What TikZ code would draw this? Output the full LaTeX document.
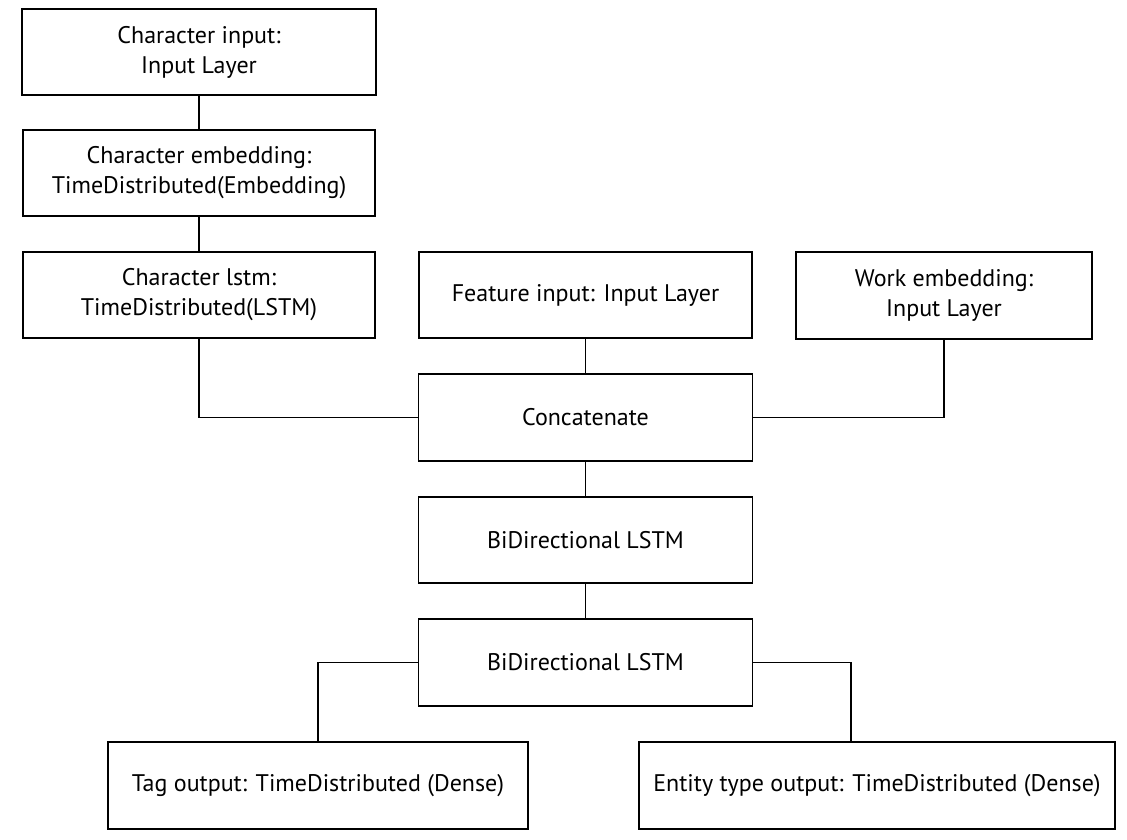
\documentclass[tikz,border=0pt]{standalone}
\usepackage{fontspec}
\setmainfont{PT Sans}
\usetikzlibrary{positioning}

\begin{document}
\begin{tikzpicture}[x=1pt,y=-1pt,
    layer/.style={draw,line width=1.6pt,align=center,inner sep=0pt,
        font=\fontsize{24}{30}\selectfont},
    link/.style={line width=1.4pt}]

            %\draw [help lines] (0,0) grid (1127,840);
            \useasboundingbox (0,0) rectangle (1127,840);

            \path   (199,52)    node (chin)   [layer,minimum width=354pt,minimum height=86pt] {Character input:\\Input Layer}
                    (199,173)   node (chemb)  [layer,minimum width=352pt,minimum height=86pt] {Character embedding:\\TimeDistributed(Embedding)}
                    (199,295)   node (chlstm) [layer,minimum width=352pt,minimum height=86pt] {Character lstm:\\TimeDistributed(LSTM)}
                    (585.5,295) node (featin) [layer,minimum width=333pt,minimum height=86pt] {Feature input: Input Layer}
                    (944,295.5) node (workin) [layer,minimum width=296pt,minimum height=87pt] {Work embedding:\\Input Layer}
                    (585.5,417.5) node (concat) [layer,minimum width=334pt,minimum height=87pt] {Concatenate}
                    (585.5,540) node (bione)  [layer,minimum width=334pt,minimum height=86pt] {BiDirectional LSTM}
                    (585.5,662.5) node (bitwo) [layer,minimum width=334pt,minimum height=87pt] {BiDirectional LSTM}
                    (318,785.5) node (tagout) [layer,minimum width=420pt,minimum height=87pt] {Tag output: TimeDistributed (Dense)}
                    (877,785.5) node (entout) [layer,minimum width=476pt,minimum height=87pt] {Entity type output: TimeDistributed (Dense)};

            \coordinate (entin) at (851,742);

            \draw[link] (chin) -- (chemb);
            \draw[link] (chemb) -- (chlstm);
            \draw[link] (chlstm.south) |- (concat.west);
            \draw[link] (featin) -- (concat);
            \draw[link] (workin.south) |- (concat.east);
            \draw[link] (concat) -- (bione);
            \draw[link] (bione) -- (bitwo);
            \draw[link] (bitwo.west) -| (tagout.north);
            \draw[link] (bitwo.east) -| (entin);

        \end{tikzpicture}
\end{document}
